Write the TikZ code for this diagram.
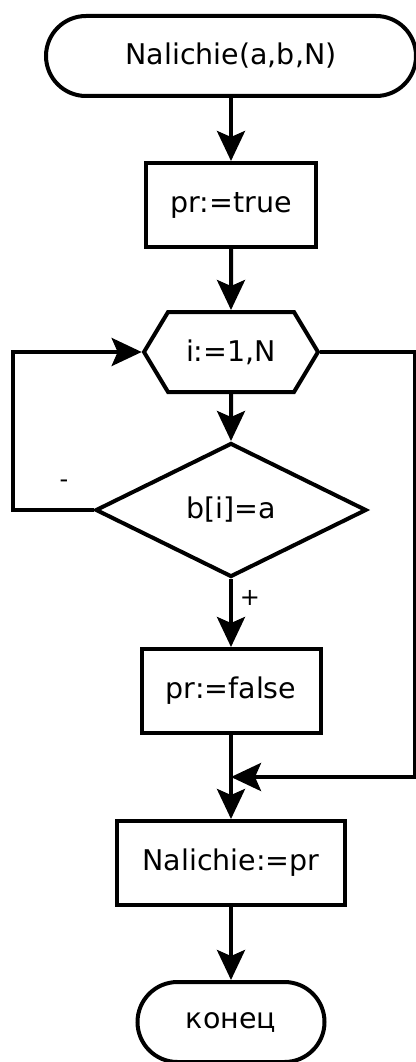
\documentclass[tikz,border=0pt]{standalone}
\usepackage{fontspec}
\setmainfont{DejaVu Sans}
\usetikzlibrary{shapes.geometric,shapes.misc,shapes.symbols,arrows.meta}

\begin{document}
\begin{tikzpicture}[x=1pt,y=-1pt,line width=4pt,
    >={Stealth[length=30pt,width=28pt,inset=6pt]},
    font=\fontsize{28.5}{32}\selectfont,
    term/.style={draw,rounded rectangle,minimum height=80pt,inner sep=0pt},
    block/.style={draw,rectangle,minimum height=84pt,inner sep=0pt},
    loopbox/.style={draw,signal,signal to=west and east,signal pointer angle=118,
        minimum width=174pt,minimum height=80pt,inner sep=0pt},
    cond/.style={draw,diamond,minimum width=271pt,minimum height=134pt,inner sep=0pt},
    branchlbl/.style={font=\fontsize{24}{28}\selectfont,inner sep=0pt}]
    \useasboundingbox (0,0) rectangle (415,1062);

    \node[term,minimum width=370pt] (start) at (231,56) {Nalichie(a,b,N)};
    \node[block,minimum width=170pt] (init) at (231,205) {pr:=true};
    \node[loopbox] (loop) at (231,352) {i:=1,N};
    \node[cond] (check) at (231,510) {b[i]=a};
    \node[block,minimum width=179pt] (found) at (231,691) {pr:=false};
    \node[block,minimum width=228pt] (result) at (231,863) {Nalichie:=pr};
    \node[term,minimum width=187pt] (stop) at (231,1022) {конец};
    \coordinate (join) at (231,777);

    \draw[->] (start) -- (init);
    \draw[->] (init) -- (loop);
    \draw[->] (loop) -- (check);
    \draw[->] (check) -- (found);
    \draw (found) -- (join);
    \draw[->] (join) -- (result);
    \draw[->] (result) -- (stop);

    % loop back and exit
    \draw[->] (check.west) -- ++(-81,0) |- (loop.west);
    \draw[->] (loop.east) -- ++(95,0) |- (join);

    \node[branchlbl] (minus) at (64,484) {-};
    \node[branchlbl] (plus) at (250,598) {+};
\end{tikzpicture}
\end{document}
